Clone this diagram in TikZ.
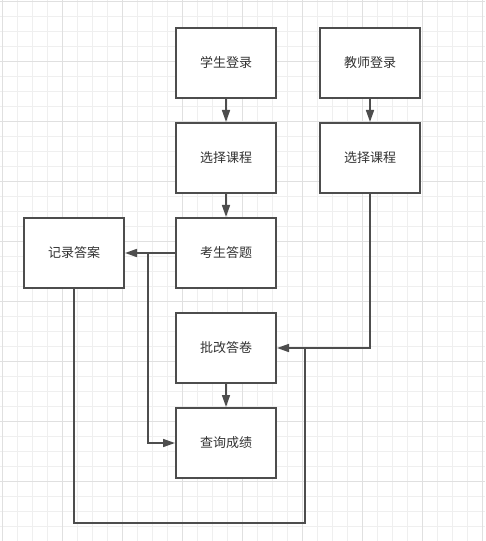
\documentclass[tikz,border=0pt]{standalone}
\usepackage{fontspec}
\newfontfamily\cjk{Noto Sans CJK SC}
\usetikzlibrary{arrows.meta,positioning}
\definecolor{gridminor}{HTML}{EFEFEF}
\definecolor{gridmajor}{HTML}{E0E0E0}
\definecolor{boxline}{HTML}{4D4D4D}
\definecolor{textgray}{HTML}{333333}

\begin{document}
\begin{tikzpicture}[
    x=0.75pt, y=-0.75pt,
    stepbox/.style={rectangle, draw=boxline, line width=1.5pt, fill=white,
        minimum width=75pt, minimum height=52.5pt, inner sep=0pt,
        font=\cjk\fontsize{9.75}{12}\selectfont, text=textgray},
    flow/.style={-{Triangle[length=9pt,width=6pt]}, line width=1.2pt, draw=boxline},
    link/.style={line width=1.2pt, draw=boxline}
]
    % Page and grid
    \useasboundingbox[fill=white] (0,0) rectangle (485,541);
    \foreach \gx in {2,17,...,482} \draw[gridminor, line width=0.6pt] (\gx,0) -- (\gx,541);
    \foreach \gy in {1,16,...,541} \draw[gridminor, line width=0.6pt] (0,\gy) -- (485,\gy);
    \foreach \gx in {2,62,...,482} \draw[gridmajor, line width=0.6pt] (\gx,0) -- (\gx,541);
    \foreach \gy in {1,61,...,541} \draw[gridmajor, line width=0.6pt] (0,\gy) -- (485,\gy);

    % Steps
    \node[stepbox] (sl) at (226,63) {学生登录};
    \node[stepbox] (tl) at (370,63) {教师登录};
    \node[stepbox] (sk) at (226,158) {选择课程};
    \node[stepbox] (tk) at (370,158) {选择课程};
    \node[stepbox] (kd) at (226,253) {考生答题};
    \node[stepbox] (jl) at (74,253) {记录答案};
    \node[stepbox] (pg) at (226,348) {批改答卷};
    \node[stepbox] (cx) at (226,443) {查询成绩};

    % Bends of the connectors
    \coordinate (kdsplit) at (148,253);
    \coordinate (loopcorner) at (305,523);
    \coordinate (pgjoin) at (305,348);

    % Connectors
    \draw[flow] (sl) -- (sk);
    \draw[flow] (tl) -- (tk);
    \draw[flow] (sk) -- (kd);
    \draw[flow] (kd) -- (jl);
    \draw[flow] (kdsplit) |- (cx);
    \draw[flow] (tk) |- (pg);
    \draw[flow] (pg) -- (cx);
    \draw[link] (jl) |- (loopcorner) -- (pgjoin);
\end{tikzpicture}
\end{document}
